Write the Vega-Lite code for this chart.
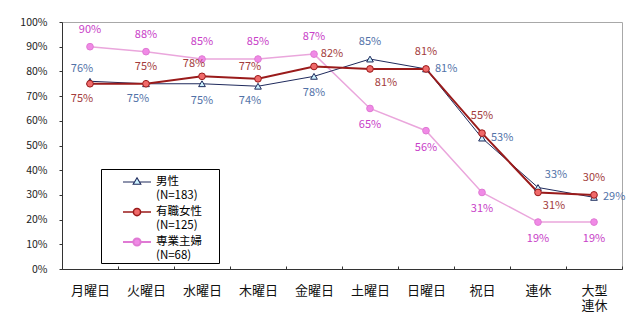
{
  "$schema": "https://vega.github.io/schema/vega-lite/v6.json",
  "width": 560,
  "height": 247,
  "autosize": "none",
  "padding": {"left": 62, "top": 22, "right": 18, "bottom": 53},
  "background": "white",
  "config": {
    "view": {"stroke": "#a8a8a8"},
    "font": "Noto Sans CJK JP",
    "legend": {
      "orient": "none", "legendX": 39, "legendY": 147, "title": null,
      "strokeColor": "#000", "fillColor": "#fff", "padding": 2,
      "symbolSize": 400, "symbolOffset": 23, "labelOffset": 8, "rowPadding": 0,
      "labelFont": "Noto Sans CJK JP", "labelFontSize": 11.5, "labelColor": "#000",
      "labelBaseline": "middle", "symbolOpacity": 1
    }
  },
  "data": {"values": [
    {"series": "専業主婦", "day": "月曜日", "value": 0.90},
    {"series": "専業主婦", "day": "火曜日", "value": 0.88},
    {"series": "専業主婦", "day": "水曜日", "value": 0.85},
    {"series": "専業主婦", "day": "木曜日", "value": 0.85},
    {"series": "専業主婦", "day": "金曜日", "value": 0.87},
    {"series": "専業主婦", "day": "土曜日", "value": 0.65},
    {"series": "専業主婦", "day": "日曜日", "value": 0.56},
    {"series": "専業主婦", "day": "祝日", "value": 0.31},
    {"series": "専業主婦", "day": "連休", "value": 0.19},
    {"series": "専業主婦", "day": "大型連休", "value": 0.19},
    {"series": "男性", "day": "月曜日", "value": 0.76},
    {"series": "男性", "day": "火曜日", "value": 0.75},
    {"series": "男性", "day": "水曜日", "value": 0.75},
    {"series": "男性", "day": "木曜日", "value": 0.74},
    {"series": "男性", "day": "金曜日", "value": 0.78},
    {"series": "男性", "day": "土曜日", "value": 0.85},
    {"series": "男性", "day": "日曜日", "value": 0.81},
    {"series": "男性", "day": "祝日", "value": 0.53},
    {"series": "男性", "day": "連休", "value": 0.33},
    {"series": "男性", "day": "大型連休", "value": 0.29},
    {"series": "有職女性", "day": "月曜日", "value": 0.75},
    {"series": "有職女性", "day": "火曜日", "value": 0.75},
    {"series": "有職女性", "day": "水曜日", "value": 0.78},
    {"series": "有職女性", "day": "木曜日", "value": 0.77},
    {"series": "有職女性", "day": "金曜日", "value": 0.82},
    {"series": "有職女性", "day": "土曜日", "value": 0.81},
    {"series": "有職女性", "day": "日曜日", "value": 0.81},
    {"series": "有職女性", "day": "祝日", "value": 0.55},
    {"series": "有職女性", "day": "連休", "value": 0.31},
    {"series": "有職女性", "day": "大型連休", "value": 0.30}
  ]},
  "encoding": {
    "x": {
      "field": "day", "type": "nominal",
      "sort": ["月曜日", "火曜日", "水曜日", "木曜日", "金曜日", "土曜日", "日曜日", "祝日", "連休", "大型連休"],
      "scale": {"paddingInner": 0, "paddingOuter": 0},
      "axis": {
        "title": null, "labelAngle": 0, "labelFontSize": 13, "labelColor": "#111",
        "labelFont": "Noto Sans CJK JP", "labelBaseline": "top", "labelPadding": 18,
        "labelLineHeight": 15,
        "labelExpr": "datum.value == '大型連休' ? ['大型', '連休'] : datum.value",
        "tickBand": "extent", "tickSize": -3, "tickColor": "#333", "domainColor": "#333",
        "grid": false
      }
    },
    "y": {
      "field": "value", "type": "quantitative",
      "scale": {"domain": [0, 1], "nice": false},
      "axis": {
        "title": null, "values": [0, 0.1, 0.2, 0.3, 0.4, 0.5, 0.6, 0.7, 0.8, 0.9, 1],
        "format": ".0%", "labelFontSize": 10.5, "labelColor": "#222", "labelPadding": 12,
        "tickSize": 3, "tickColor": "#333", "domainColor": "#333", "grid": false
      }
    }
  },
  "layer": [
    {
      "mark": {"type": "line"},
      "encoding": {
        "detail": {"field": "series"},
        "stroke": {"condition": [{"test": "datum.series === '男性'", "value": "#1f2a5c"}, {"test": "datum.series === '有職女性'", "value": "#9a1b1b"}], "value": "#eaa6dc"},
        "strokeWidth": {"condition": [{"test": "datum.series === '男性'", "value": 1}, {"test": "datum.series === '有職女性'", "value": 2}], "value": 1.5}
      }
    },
    {
      "mark": {"type": "point", "filled": true, "opacity": 1, "size": 45, "strokeWidth": 1},
      "encoding": {
        "shape": {"condition": {"test": "datum.series === '男性'", "value": "triangle-up"}, "value": "circle"},
        "stroke": {"condition": [{"test": "datum.series === '男性'", "value": "#1f2a5c"}, {"test": "datum.series === '有職女性'", "value": "#9a1b1b"}], "value": "#e07ad4"},
        "fill": {"condition": [{"test": "datum.series === '男性'", "value": "#cdf3ff"}, {"test": "datum.series === '有職女性'", "value": "#f06a6a"}], "value": "#f08ae6"}
      }
    },
    {
      "mark": {"type": "point", "filled": true, "opacity": 1, "size": 0},
      "encoding": {
        "shape": {
          "field": "series",
          "scale": {"domain": ["男性", "有職女性", "専業主婦"], "range": ["M-1.4,0L-0.25,0M0.25,0L1.4,0M0,-0.42L0.38,0.22L-0.38,0.22Z", "M-1.4,0L-0.36,0M0.36,0L1.4,0M-0.36,0A0.36,0.36 0 1,0 0.36,0A0.36,0.36 0 1,0 -0.36,0Z", "M-1.4,0L-0.36,0M0.36,0L1.4,0M-0.36,0A0.36,0.36 0 1,0 0.36,0A0.36,0.36 0 1,0 -0.36,0Z"]},
          "legend": {
            "labelExpr": "datum.label == '男性' ? ['男性', '(N=183)'] : datum.label == '有職女性' ? ['有職女性\u3000 \u200b', '(N=125)'] : ['専業主婦', '(N=68)']"
          }
        },
        "fill": {
          "field": "series",
          "scale": {"domain": ["男性", "有職女性", "専業主婦"], "range": ["#cdf3ff", "#f06a6a", "#f08ae6"]},
          "legend": {
            "labelExpr": "datum.label == '男性' ? ['男性', '(N=183)'] : datum.label == '有職女性' ? ['有職女性\u3000 \u200b', '(N=125)'] : ['専業主婦', '(N=68)']"
          }
        },
        "stroke": {
          "field": "series",
          "scale": {"domain": ["男性", "有職女性", "専業主婦"], "range": ["#1f2a5c", "#9a1b1b", "#e07ad4"]},
          "legend": {
            "labelExpr": "datum.label == '男性' ? ['男性', '(N=183)'] : datum.label == '有職女性' ? ['有職女性\u3000 \u200b', '(N=125)'] : ['専業主婦', '(N=68)']"
          }
        },
        "strokeWidth": {
          "field": "series",
          "scale": {"domain": ["男性", "有職女性", "専業主婦"], "range": [1.1, 2, 1.3]},
          "legend": {
            "labelExpr": "datum.label == '男性' ? ['男性', '(N=183)'] : datum.label == '有職女性' ? ['有職女性\u3000 \u200b', '(N=125)'] : ['専業主婦', '(N=68)']"
          }
        }
      }
    },
    {
      "transform": [{"filter": "(datum.series==='男性' && indexof(['土曜日'],datum.day)>=0) || (datum.series==='有職女性' && indexof(['火曜日','日曜日','祝日','大型連休'],datum.day)>=0) || (datum.series==='専業主婦' && indexof(['月曜日','火曜日','水曜日','木曜日','金曜日'],datum.day)>=0)"}],
      "mark": {"type": "text", "dy": -17, "fontSize": 11, "baseline": "middle", "align": "center"},
      "encoding": {
        "text": {"field": "value", "type": "quantitative", "format": ".0%"},
        "fill": {"condition": [{"test": "datum.series === '男性'", "value": "#5272a8"}, {"test": "datum.series === '有職女性'", "value": "#a33c3c"}], "value": "#c840c8"}
      }
    },
    {
      "transform": [{"filter": "(datum.series==='男性' && datum.day==='月曜日') || (datum.series==='有職女性' && indexof(['水曜日','木曜日'],datum.day)>=0)"}],
      "mark": {"type": "text", "dy": -12, "dx": -8, "fontSize": 11, "baseline": "middle", "align": "center"},
      "encoding": {
        "text": {"field": "value", "type": "quantitative", "format": ".0%"},
        "fill": {"condition": [{"test": "datum.series === '男性'", "value": "#5272a8"}, {"test": "datum.series === '有職女性'", "value": "#a33c3c"}], "value": "#c840c8"}
      }
    },
    {
      "transform": [{"filter": "(datum.series==='男性' && indexof(['水曜日','金曜日'],datum.day)>=0) || (datum.series==='専業主婦' && indexof(['土曜日','日曜日','祝日','連休','大型連休'],datum.day)>=0)"}],
      "mark": {"type": "text", "dy": 17, "fontSize": 11, "baseline": "middle", "align": "center"},
      "encoding": {
        "text": {"field": "value", "type": "quantitative", "format": ".0%"},
        "fill": {"condition": [{"test": "datum.series === '男性'", "value": "#5272a8"}, {"test": "datum.series === '有職女性'", "value": "#a33c3c"}], "value": "#c840c8"}
      }
    },
    {
      "transform": [{"filter": "(datum.series==='男性' && indexof(['火曜日','木曜日'],datum.day)>=0) || (datum.series==='有職女性' && datum.day==='月曜日')"}],
      "mark": {"type": "text", "dy": 15, "dx": -8, "fontSize": 11, "baseline": "middle", "align": "center"},
      "encoding": {
        "text": {"field": "value", "type": "quantitative", "format": ".0%"},
        "fill": {"condition": [{"test": "datum.series === '男性'", "value": "#5272a8"}, {"test": "datum.series === '有職女性'", "value": "#a33c3c"}], "value": "#c840c8"}
      }
    },
    {
      "transform": [{"filter": "datum.series==='男性' && indexof(['日曜日','祝日','大型連休'],datum.day)>=0"}],
      "mark": {"type": "text", "dx": 9, "fontSize": 11, "baseline": "middle", "align": "left"},
      "encoding": {
        "text": {"field": "value", "type": "quantitative", "format": ".0%"},
        "fill": {"value": "#5272a8"}
      }
    },
    {
      "transform": [{"filter": "(datum.series==='男性' && datum.day==='連休') || (datum.series==='有職女性' && datum.day==='金曜日')"}],
      "mark": {"type": "text", "dx": 18, "dy": -12, "fontSize": 11, "baseline": "middle", "align": "center"},
      "encoding": {
        "text": {"field": "value", "type": "quantitative", "format": ".0%"},
        "fill": {"condition": [{"test": "datum.series === '男性'", "value": "#5272a8"}], "value": "#a33c3c"}
      }
    },
    {
      "transform": [{"filter": "datum.series==='有職女性' && indexof(['土曜日','連休'],datum.day)>=0"}],
      "mark": {"type": "text", "dx": 16, "dy": 14, "fontSize": 11, "baseline": "middle", "align": "center"},
      "encoding": {
        "text": {"field": "value", "type": "quantitative", "format": ".0%"},
        "fill": {"value": "#a33c3c"}
      }
    }
  ]
}
